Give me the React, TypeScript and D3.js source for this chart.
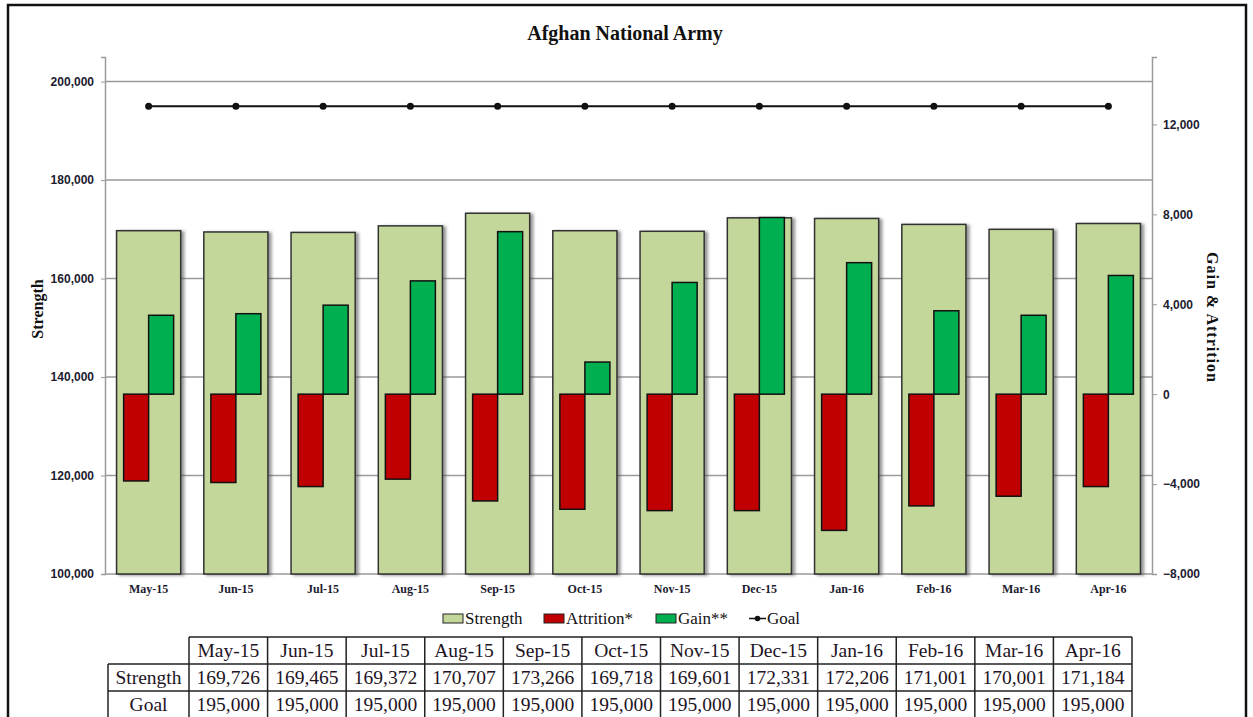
// Afghan National Army strength chart: strength bars on the left axis,
// gain / attrition bars on the right axis, goal line, and a data table below.
import React, { useRef, useEffect } from 'react';
import * as d3 from 'd3';

const months = ['May-15', 'Jun-15', 'Jul-15', 'Aug-15', 'Sep-15', 'Oct-15', 'Nov-15', 'Dec-15', 'Jan-16', 'Feb-16', 'Mar-16', 'Apr-16'];
const strength = [169726, 169465, 169372, 170707, 173266, 169718, 169601, 172331, 172206, 171001, 170001, 171184];
const goal = [195000, 195000, 195000, 195000, 195000, 195000, 195000, 195000, 195000, 195000, 195000, 195000];
// (approx)
const attrition = [-3860, -3930, -4110, -3780, -4750, -5120, -5180, -5180, -6060, -4970, -4540, -4110];
const gain = [3510, 3580, 3960, 5040, 7230, 1430, 4970, 7860, 5850, 3710, 3510, 5280];
const leftTicks = [100000, 120000, 140000, 160000, 180000, 200000];
const rightTicks = [-8000, -4000, 0, 4000, 8000, 12000];

const W = 1253;
const H = 717;
const plot = { left: 105, right: 1152, top: 57, bottom: 574 };
const serif = '"Liberation Serif", "Times New Roman", serif';
const sans = '"Liberation Sans", Arial, sans-serif';

export default function App() {
  const ref = useRef<SVGSVGElement>(null);

  useEffect(() => {
    const svg = d3.select(ref.current);
    svg.selectAll('*').remove();

    const defs = svg.append('defs');
    const f = defs.append('filter').attr('id', 'shadow').attr('x', '-10%').attr('y', '-10%').attr('width', '130%').attr('height', '130%');
    f.append('feDropShadow').attr('dx', 3).attr('dy', 1).attr('stdDeviation', 1.5)
      .attr('flood-color', '#444').attr('flood-opacity', 0.55);

    // outer frame
    svg.append('rect').attr('x', 8).attr('y', 5).attr('width', 1238).attr('height', 740)
      .attr('fill', 'white').attr('stroke', '#111').attr('stroke-width', 2.5);

    const x = d3.scaleBand().domain(months).range([plot.left, plot.right])
      .paddingInner(0.265).paddingOuter(0.1325);
    const xFull = d3.scaleBand().domain(months).range([plot.left, plot.right]);
    // attrition + gain side by side, ~25px each, centred in the category
    const sub = d3.scaleBand().domain(['attr', 'gain'])
      .range([0, xFull.bandwidth()]).paddingInner(0).paddingOuter(0.745);

    const yL = d3.scaleLinear().domain([100000, 205000]).range([plot.bottom, plot.top]);
    const yR = d3.scaleLinear().domain([-8000, 15000]).range([plot.bottom, plot.top]);

    // grid lines
    svg.append('g').selectAll('line').data(leftTicks.slice(1)).enter().append('line')
      .attr('x1', plot.left).attr('x2', plot.right)
      .attr('y1', d => yL(d)).attr('y2', d => yL(d))
      .attr('stroke', '#9a9a9a').attr('stroke-width', 1.5);

    // left axis
    const left = svg.append('g').attr('transform', `translate(${plot.left},0)`)
      .call(d3.axisLeft(yL).tickValues(leftTicks).tickSize(4).tickFormat(d3.format(',')));
    left.select('.domain').attr('stroke', '#9a9a9a').attr('stroke-width', 1.5);
    left.selectAll('.tick line').attr('stroke', '#9a9a9a');
    left.selectAll('.tick text').attr('x', -11).style('font-family', sans).style('font-weight', 'bold')
      .style('font-size', '12px').style('fill', '#1c1c30');

    // right axis
    const right = svg.append('g').attr('transform', `translate(${plot.right},0)`)
      .call(d3.axisRight(yR).tickValues(rightTicks).tickSize(5).tickFormat(d3.format(',')));
    right.select('.domain').attr('stroke', '#9a9a9a').attr('stroke-width', 1.5);
    right.selectAll('.tick line').attr('stroke', '#9a9a9a');
    right.selectAll('.tick text').attr('x', 11).style('font-family', sans).style('font-weight', 'bold')
      .style('font-size', '12px').style('fill', '#1c1c30');

    // bottom axis line
    svg.append('line').attr('x1', plot.left).attr('x2', plot.right)
      .attr('y1', plot.bottom).attr('y2', plot.bottom)
      .attr('stroke', '#9a9a9a').attr('stroke-width', 1.5);

    // strength bars
    svg.append('g').selectAll('rect').data(months).enter().append('rect')
      .attr('x', d => x(d)!)
      .attr('y', (d, i) => yL(strength[i]))
      .attr('width', x.bandwidth())
      .attr('height', (d, i) => yL(100000) - yL(strength[i]))
      .attr('fill', '#c4d79b').attr('stroke', '#333').attr('stroke-width', 1.5)
      .attr('filter', 'url(#shadow)');

    // attrition bars
    svg.append('g').selectAll('rect').data(months).enter().append('rect')
      .attr('x', d => xFull(d)! + sub('attr')!)
      .attr('y', () => yR(0))
      .attr('width', sub.bandwidth())
      .attr('height', (d, i) => yR(attrition[i]) - yR(0))
      .attr('fill', '#c00000').attr('stroke', '#111').attr('stroke-width', 1.5);

    // gain bars
    svg.append('g').selectAll('rect').data(months).enter().append('rect')
      .attr('x', d => xFull(d)! + sub('gain')!)
      .attr('y', (d, i) => yR(gain[i]))
      .attr('width', sub.bandwidth())
      .attr('height', (d, i) => yR(0) - yR(gain[i]))
      .attr('fill', '#00b050').attr('stroke', '#111').attr('stroke-width', 1.5);

    // goal line
    const cx = (d: string) => xFull(d)! + xFull.bandwidth() / 2;
    const line = d3.line<string>().x(d => cx(d)).y((d, i) => yL(goal[i]));
    svg.append('path').datum(months).attr('d', line)
      .attr('fill', 'none').attr('stroke', '#111').attr('stroke-width', 1.8);
    svg.append('g').selectAll('circle').data(months).enter().append('circle')
      .attr('cx', d => cx(d)).attr('cy', (d, i) => yL(goal[i])).attr('r', 3.5).attr('fill', '#111');

    // x labels
    svg.append('g').selectAll('text').data(months).enter().append('text')
      .attr('x', d => cx(d)).attr('y', 593).attr('text-anchor', 'middle')
      .style('font-family', serif).style('font-weight', 'bold').style('font-size', '12px')
      .style('fill', '#1c1c30').text(d => d);

    // title
    svg.append('text').attr('x', 625).attr('y', 40).attr('text-anchor', 'middle')
      .style('font-family', serif).style('font-weight', 'bold').style('font-size', '20px')
      .style('fill', '#111').text('Afghan National Army');

    // axis titles
    svg.append('text').attr('transform', 'translate(43,309) rotate(-90)').attr('text-anchor', 'middle')
      .style('font-family', serif).style('font-weight', 'bold').style('font-size', '16px')
      .style('fill', '#111').text('Strength');
    svg.append('text').attr('transform', 'translate(1207,317) rotate(90)').attr('text-anchor', 'middle')
      .attr('textLength', 130).attr('lengthAdjust', 'spacing')
      .style('font-family', serif).style('font-weight', 'bold').style('font-size', '16px')
      .style('fill', '#111').text('Gain & Attrition');

    // legend
    const lg = svg.append('g').style('font-family', serif).style('font-size', '17px').style('fill', '#111');
    const legendItems = [
      { label: 'Strength', color: '#c4d79b', x: 443 },
      { label: 'Attrition*', color: '#c00000', x: 544 },
      { label: 'Gain**', color: '#00b050', x: 656 },
    ];
    legendItems.forEach(it => {
      lg.append('rect').attr('x', it.x).attr('y', 614).attr('width', 20).attr('height', 9)
        .attr('fill', it.color).attr('stroke', '#222').attr('stroke-width', 1);
      lg.append('text').attr('x', it.x + 22).attr('y', 624).text(it.label);
    });
    lg.append('line').attr('x1', 749).attr('x2', 766).attr('y1', 618.5).attr('y2', 618.5)
      .attr('stroke', '#111').attr('stroke-width', 1.5);
    lg.append('circle').attr('cx', 757.5).attr('cy', 618.5).attr('r', 2.8).attr('fill', '#111');
    lg.append('text').attr('x', 767).attr('y', 624).text('Goal');

    // data table
    const tx = d3.scaleBand().domain(months).range([189, 1132]);
    const rowY = [637, 664, 691, 718];
    const t = svg.append('g');
    const stroke = (sel: any) => sel.attr('stroke', '#222').attr('stroke-width', 1.5);
    stroke(t.append('line').attr('x1', 189).attr('x2', 1132).attr('y1', rowY[0]).attr('y2', rowY[0]));
    rowY.slice(1).forEach(yy => {
      stroke(t.append('line').attr('x1', 108).attr('x2', 1132).attr('y1', yy).attr('y2', yy));
    });
    stroke(t.append('line').attr('x1', 108).attr('x2', 108).attr('y1', rowY[1]).attr('y2', rowY[3]));
    const colEdges = months.map(m => tx(m)!).concat([1132]);
    colEdges.forEach(cxx => {
      stroke(t.append('line').attr('x1', cxx).attr('x2', cxx).attr('y1', rowY[0]).attr('y2', rowY[3]));
    });
    const cellText = (xx: number, yy: number, s: string) =>
      t.append('text').attr('x', xx).attr('y', yy).attr('text-anchor', 'middle')
        .style('font-family', serif).style('font-size', '19.5px').style('fill', '#1e1424').text(s);
    const fmt = d3.format(',');
    months.forEach((m, i) => {
      const c = tx(m)! + tx.bandwidth() / 2;
      cellText(c, 657, m);
      cellText(c, 684, fmt(strength[i]));
      cellText(c, 711, fmt(goal[i]));
    });
    cellText(148.5, 684, 'Strength');
    cellText(148.5, 711, 'Goal');
  }, []);

  return <svg ref={ref} width={W} height={H} style={{ position: 'absolute', left: 0, top: 0 }} />;
}
